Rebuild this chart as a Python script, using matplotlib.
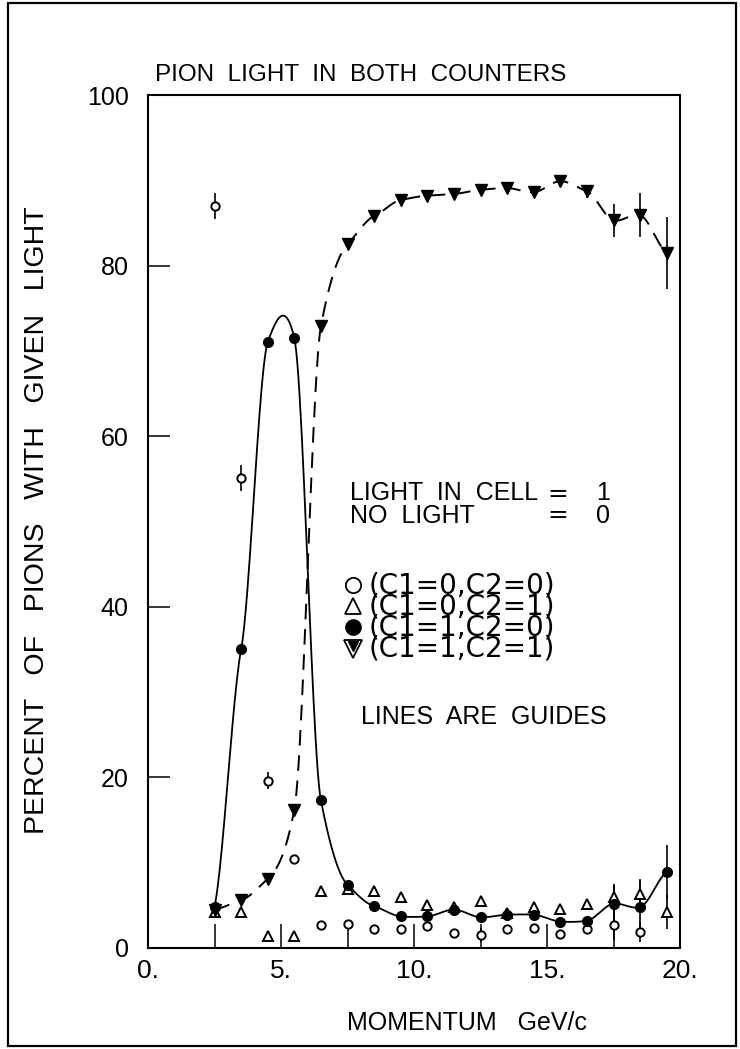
import numpy as np
import matplotlib
matplotlib.use("Agg")
import matplotlib.pyplot as plt
from matplotlib.patches import Rectangle

# momentum bins (GeV/c)
momentum = [2.5, 3.5, 4.5, 5.5, 6.5, 7.5, 8.5, 9.5, 10.5,
            11.5, 12.5, 13.5, 14.5, 15.5, 16.5, 17.5, 18.5, 19.5]

# percent of pions, one list per light combination
c1_0_c2_0 = [87.0, 55.1, 19.6, 10.4, 2.7, 2.8, 2.2, 2.2, 2.6,
             1.8, 1.5, 2.2, 2.3, 1.6, 2.2, 2.7, 1.9, np.nan]
c1_0_c2_1 = [4.2, 4.2, 1.4, 1.4, 6.7, 6.9, 6.7, 6.0, 5.0,
             4.8, 5.5, 4.1, 4.8, 4.6, 5.2, 6.0, 6.3, 4.2]
c1_1_c2_0 = [4.8, 35.0, 71.0, 71.5, 17.3, 7.4, 4.9, 3.7, 3.7,
             4.5, 3.6, 3.9, 3.9, 3.1, 3.2, 5.2, 4.8, 8.9]
c1_1_c2_1 = [4.5, 5.6, 8.1, 16.2, 72.9, 82.5, 85.8, 87.7, 88.2,
             88.4, 88.9, 89.1, 88.6, 89.9, 88.7, 85.3, 85.9, 81.5]

err_00 = [1.5, 1.5, 1.0, 0.5, 0, 0, 0, 0, 0, 0, 0.8, 0, 0, 0, 0, 1.8, 1.2, 0]
err_01 = [0, 0, 0, 0, 0, 0, 0, 0, 0, 0, 0, 0, 0, 0, 0, 1.5, 1.5, 2.0]
err_10 = [0, 0, 0, 0, 0, 0, 0, 0, 0, 0, 0, 0, 0, 0, 0, 2.2, 3.3, 3.2]
err_11 = [0, 0, 0, 0, 0, 0, 0, 0, 0, 0, 0.6, 0.6, 0.6, 0.7, 0.8, 1.9, 2.6, 4.2]

x_ticks = [0, 2.5, 5, 7.5, 10, 12.5, 15, 17.5, 20]
x_labels = ["0.", "", "5.", "", "10.", "", "15.", "", "20."]
y_ticks = [0, 20, 40, 60, 80, 100]


def guide(x, y, tension=0.5, n=25):
    # cardinal spline through the points, only used for the guide lines
    x = np.asarray(x, float)
    y = np.asarray(y, float)
    m = np.empty_like(y)
    m[1:-1] = (y[2:] - y[:-2]) / (x[2:] - x[:-2])
    m[0] = (y[1] - y[0]) / (x[1] - x[0])
    m[-1] = (y[-1] - y[-2]) / (x[-1] - x[-2])
    m *= (1 - tension)
    xs, ys = [], []
    for i in range(len(x) - 1):
        h = x[i + 1] - x[i]
        t = np.linspace(0, 1, n, endpoint=False)
        h00 = 2 * t**3 - 3 * t**2 + 1
        h10 = t**3 - 2 * t**2 + t
        h01 = -2 * t**3 + 3 * t**2
        h11 = t**3 - t**2
        xs.append(x[i] + t * h)
        ys.append(h00 * y[i] + h10 * h * m[i] + h01 * y[i + 1] + h11 * h * m[i + 1])
    xs.append([x[-1]])
    ys.append([y[-1]])
    return np.concatenate(xs), np.concatenate(ys)


plt.rcParams['font.family'] = ['Liberation Sans', 'DejaVu Sans']

fig = plt.figure(figsize=(7.40, 10.49), dpi=100)
ax = fig.add_axes([0.2, 0.0963, 0.719, 0.8131])

# guide lines
gx, gy = guide(momentum, c1_1_c2_0)
ax.plot(gx, gy, color='black', lw=1.3, zorder=2)
gx, gy = guide(momentum, c1_1_c2_1)
ax.plot(gx, gy, color='black', lw=1.4, ls=(0, (8, 5)), zorder=2)

eb = dict(fmt='none', ecolor='black', elinewidth=1.2, capsize=0, zorder=3)
ax.errorbar(momentum, c1_0_c2_0, yerr=err_00, **eb)
ax.errorbar(momentum, c1_0_c2_1, yerr=err_01, **eb)
ax.errorbar(momentum, c1_1_c2_0, yerr=err_10, **eb)
ax.errorbar(momentum, c1_1_c2_1, yerr=err_11, **eb)

ax.plot(momentum, c1_0_c2_0, ls='none', marker='o', ms=6, mfc='white',
        mec='black', mew=1.4, zorder=4)
ax.plot(momentum, c1_0_c2_1, ls='none', marker='^', ms=7, mfc='white',
        mec='black', mew=1.4, zorder=4)
ax.plot(momentum, c1_1_c2_0, ls='none', marker='o', ms=7, mfc='black',
        mec='black', zorder=5)
ax.plot(momentum, c1_1_c2_1, ls='none', marker='v', ms=8, mfc='black',
        mec='black', zorder=5)

ax.set_xlim(0, 20)
ax.set_ylim(0, 100)
ax.set_xticks(x_ticks)
ax.set_xticklabels(x_labels, fontsize=19)
ax.set_yticks(y_ticks)
ax.set_yticklabels([str(v) for v in y_ticks], fontsize=18)
ax.tick_params(axis='x', direction='in', length=17, width=1.1, pad=8, top=False)
ax.tick_params(axis='y', direction='in', length=16, width=1.1, pad=14, right=False)
for s in ax.spines.values():
    s.set_linewidth(1.5)

ax.set_title("PION  LIGHT  IN  BOTH  COUNTERS", fontsize=17.5, pad=10, x=0.40)
ax.set_xlabel("MOMENTUM   GeV/c", fontsize=18, labelpad=20, x=0.6)
ax.text(-0.209, 0.502, "PERCENT   OF   PIONS   WITH   GIVEN   LIGHT",
        transform=ax.transAxes, rotation=90, ha='center', va='center',
        fontsize=20.5)

# legend block drawn as text
ax.text(7.6, 52.0, "LIGHT  IN  CELL\nNO  LIGHT", fontsize=18, va='center',
        linespacing=0.95)
ax.text(15.4, 52.0, "=\n=", fontsize=18, va='center', ha='center',
        family='DejaVu Sans', linespacing=0.85)
ax.text(17.1, 52.0, "1\n0", fontsize=18, va='center', ha='center',
        linespacing=0.95)

rows = [42.6, 40.1, 37.6, 35.1]
names = ["(C1=0,C2=0)", "(C1=0,C2=1)", "(C1=1,C2=0)", "(C1=1,C2=1)"]
sym_x = 7.72
ax.plot(sym_x, rows[0], marker='o', ms=11, mfc='white', mec='black', mew=1.3)
ax.plot(sym_x, rows[1], marker='^', ms=12, mfc='white', mec='black', mew=1.3)
ax.plot(sym_x, rows[2], marker='o', ms=11, mfc='black', mec='black')
ax.plot(sym_x, rows[3], marker='v', ms=13, mfc='white', mec='black', mew=1.3)
ax.plot(sym_x, rows[3] + 0.3, marker='v', ms=7, mfc='black', mec='black')
ax.text(8.3, np.mean(rows), "\n".join(names), fontsize=20, va='center',
        family='DejaVu Sans', linespacing=0.685)

ax.text(8.0, 27.1, "LINES  ARE  GUIDES", fontsize=18, va='center')

fig.patches.append(Rectangle((0.011, 0.003), 0.984, 0.994, transform=fig.transFigure,
                             fill=False, lw=1.6, ec='black'))

fig.savefig("out.png", dpi=100)
